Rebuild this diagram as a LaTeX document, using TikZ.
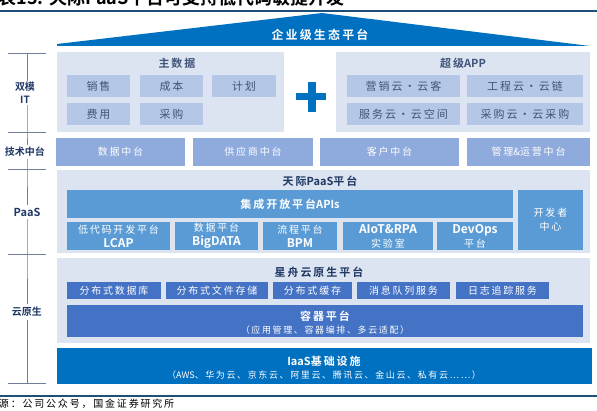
\documentclass[tikz,border=0pt]{standalone}
\usepackage{fontspec}
\setmainfont{Noto Sans CJK SC}[BoldFont={Noto Sans CJK SC Bold}]
\newfontfamily\wide{Noto Sans CJK SC}[LetterSpace=18,BoldFont={Noto Sans CJK SC Bold}]
\newcommand\lt[1]{{\rmfamily #1}}
\newcommand\ltb[1]{{\rmfamily\bfseries\fontsize{12}{12}\selectfont #1}}
\definecolor{panelc}{HTML}{DCE3F1}
\definecolor{subc}{HTML}{B4C7E7}
\definecolor{techc}{HTML}{8FAADC}
\definecolor{paasc}{HTML}{5B9BD5}
\definecolor{cloudc}{HTML}{4472C4}
\definecolor{iaasc}{HTML}{0070C0}
\definecolor{navy}{HTML}{1F3864}
\definecolor{txt}{HTML}{3F5478}
\definecolor{linec}{HTML}{1F4E79}
\definecolor{axisc}{HTML}{6F7F99}
\newcommand\bx[7]{\node[#6, minimum width=#4pt, minimum height=#5pt, anchor=north west] (#1) at (#2,#3) {#7};}
\tikzset{
  base/.style={inner sep=0, outer sep=0, draw=none, align=center},
  panel/.style={base, fill=panelc},
  subbox/.style={base, fill=subc, text=txt, font=\wide\fontsize{11}{13}\selectfont},
  techbox/.style={base, fill=techc, text=white, font=\wide\fontsize{10}{12}\selectfont},
  paasbox/.style={base, fill=paasc, text=white, font=\wide\fontsize{10}{14}\selectfont},
  cloudbox/.style={base, fill=cloudc, text=white, font=\wide\fontsize{10}{12}\selectfont},
  iaasbox/.style={base, fill=iaasc, text=white},
  ptitle/.style={inner sep=0, text=txt, font=\wide\bfseries\fontsize{11}{13}\selectfont},
  axlab/.style={inner sep=1pt, text=navy, align=center, font=\bfseries\fontsize{10}{13}\selectfont},
  axline/.style={draw=axisc, line width=0.8pt},
  rule/.style={draw=linec, line width=1.3pt}
}
\begin{document}
\begin{tikzpicture}[x=1pt,y=-1pt]
\useasboundingbox (0,0) rectangle (597,411);
\clip (0,0) rectangle (597,411);
% title (cut at top)
\node[inner sep=0, anchor=base east, font=\bfseries\fontsize{18}{20}\selectfont] (title) at (345,5) {图表15: 天际PaaS平台可支持低代码敏捷开发};
\draw[rule] (0,11) -- (597,11);
% top triangle
\fill[iaasc] (57,46) -- (57,44) -- (322,13) -- (590,46) -- cycle;
\node[inner sep=0, text=white, font=\wide\bfseries\fontsize{12}{14}\selectfont] (eco) at (320,35) {企业级生态平台};
% left axis
\coordinate (t1) at (27,53);
\coordinate (t2) at (27,132);
\coordinate (t3) at (27,169);
\coordinate (t4) at (27,254);
\coordinate (t5) at (27,383);
\node[axlab] (l1) at (25,93) {双模\\IT};
\node[axlab, inner sep=2pt] (l2) at (25,152) {技术中台};
\node[axlab, font=\bfseries\fontsize{11}{13}\selectfont, inner sep=3pt] (l3) at (27,212) {PaaS};
\node[axlab, inner sep=3pt] (l4) at (27,312) {云原生};
\draw[axline] (t1) -- (t1|-l1.north);
\draw[axline] (t2|-l1.south) -- (t2) -- (t2|-l2.north);
\draw[axline] (t3|-l2.south) -- (t3) -- (t3|-l3.north);
\draw[axline] (t3|-l3.south) -- (t4) -- (t4|-l4.north);
\draw[axline] (t4|-l4.south) -- (t5);
\foreach \t in {t1,t2,t3,t4,t5} \draw[axline] ([xshift=-19pt]\t) -- ([xshift=19pt]\t);
% dual-mode IT
\bx{md}{57}{52}{227}{80}{panel}{}
\node[ptitle] (mdt) at (177,63) {主数据};
\bx{s1}{67}{75}{63}{22}{subbox}{销售}
\bx{s2}{140}{75}{63}{22}{subbox}{成本}
\bx{s3}{212}{75}{64}{22}{subbox}{计划}
\bx{s4}{67}{103}{63}{22}{subbox}{费用}
\bx{s5}{140}{103}{63}{22}{subbox}{采购}
\fill[iaasc] (296,93.5) rectangle (326,100.5);
\fill[iaasc] (308,82) rectangle (315.5,112);
\bx{app}{336}{52}{254}{80}{panel}{}
\node[ptitle] (appt) at (463,63) {超级\lt{APP}};
\bx{a1}{347}{75}{113}{22}{subbox}{营销云·云客}
\bx{a2}{467}{75}{116}{22}{subbox}{工程云·云链}
\bx{a3}{347}{103}{113}{22}{subbox}{服务云·云空间}
\bx{a4}{467}{103}{116}{22}{subbox}{采购云·云采购}
% tech middle platforms
\bx{m1}{56}{138}{129}{28}{techbox}{数据中台}
\bx{m2}{193}{138}{120}{28}{techbox}{供应商中台}
\bx{m3}{320}{138}{139}{28}{techbox}{客户中台}
\bx{m4}{467}{138}{123}{28}{techbox}{管理\lt{\&}运营中台}
% PaaS
\bx{pp}{57}{170}{533}{83}{panel}{}
\node[ptitle, text=navy] (ppt) at (320,181) {天际\lt{PaaS}平台};
\bx{api}{67}{190}{446}{28}{paasbox, font=\wide\bfseries\fontsize{11}{13}\selectfont}{集成开放平台\lt{APIs}}
\bx{p1}{67}{222}{103}{28}{paasbox}{低代码开发平台\\\ltb{LCAP}}
\bx{p2}{175}{222}{83}{28}{paasbox}{数据平台\\\ltb{BigDATA}}
\bx{p3}{263}{222}{74}{28}{paasbox}{流程平台\\\ltb{BPM}}
\bx{p4}{343}{222}{90}{28}{paasbox}{\ltb{AIoT\&RPA}\\实验室}
\bx{p5}{437}{222}{76}{28}{paasbox}{\ltb{DevOps}\\平台}
\bx{dev}{518}{190}{65}{60}{paasbox}{开发者\\中心}
% cloud native
\bx{cn}{57}{258}{533}{85}{panel}{}
\node[ptitle, text=navy] (cnt) at (319,272) {星舟云原生平台};
\bx{c1}{67}{282}{94}{17}{cloudbox}{分布式数据库}
\bx{c2}{166}{282}{102}{17}{cloudbox}{分布式文件存储}
\bx{c3}{273}{282}{79}{17}{cloudbox}{分布式缓存}
\bx{c4}{357}{282}{93}{17}{cloudbox}{消息队列服务}
\bx{c5}{456}{282}{93}{17}{cloudbox}{日志追踪服务}
\bx{ct}{67}{305}{516}{32}{cloudbox}{}
\node[inner sep=0, text=white, font=\wide\bfseries\fontsize{11}{13}\selectfont] (ctt) at (325,316) {容器平台};
\node[inner sep=0, text=white, font=\wide\fontsize{9}{11}\selectfont] (cts) at (325,330) {（应用管理、容器编排、多云适配）};
% IaaS
\bx{ia}{57}{348}{535}{36}{iaasbox}{}
\node[inner sep=0, text=white, font=\bfseries\fontsize{11}{13}\selectfont] (iat) at (324,361) {IaaS{\wide 基础设施}};
\node[inner sep=0, text=white, font=\wide\fontsize{9}{11}\selectfont] (ias) at (324,375) {（\lt{AWS}、华为云、京东云、阿里云、腾讯云、金山云、私有云……）};
% source
\draw[rule] (0,396) -- (597,396);
\node[inner sep=0, anchor=west, font=\wide\fontsize{10}{12}\selectfont] (src) at (-13,404) {来源：公司公众号，国金证券研究所};
\end{tikzpicture}
\end{document}
